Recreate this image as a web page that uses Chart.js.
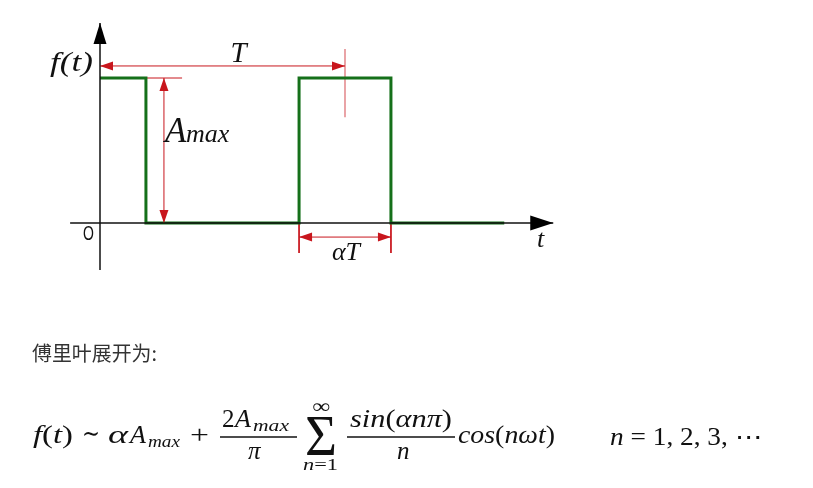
<!DOCTYPE html>
<html>
<head>
<meta charset="utf-8">
<script src="https://cdn.jsdelivr.net/npm/chart.js@4.4.1/dist/chart.umd.min.js"></script>
<style>
  body { margin: 0; background: #fff; width: 813px; height: 488px; overflow: hidden; position: relative; }
  #wave { position: absolute; left: 0; top: 0; }
  #formula { position: absolute; left: 0; top: 0; pointer-events: none; }
  #formula text { font-family: "Liberation Serif", "DejaVu Serif", serif; fill: #111; }
  #formula .it { font-style: italic; }
</style>
</head>
<body>
<canvas id="wave" width="813" height="300"></canvas>

<svg id="formula" width="813" height="488">
  <text x="32" y="361" textLength="125" lengthAdjust="spacingAndGlyphs" style="font-family:'Noto Sans CJK SC',sans-serif;font-size:20px;fill:#333">傅里叶展开为:</text>

  <text x="33" y="443" font-size="25" textLength="40" lengthAdjust="spacingAndGlyphs"><tspan class="it">f</tspan>(<tspan class="it">t</tspan>)</text>
  <text x="82" y="442" font-size="26" textLength="18" lengthAdjust="spacingAndGlyphs">∼</text>
  <text x="108" y="443" font-size="25" class="it" textLength="20" lengthAdjust="spacingAndGlyphs">α</text>
  <text x="130" y="443" font-size="26" class="it">A</text>
  <text x="148" y="447" font-size="17" class="it" textLength="32" lengthAdjust="spacingAndGlyphs">max</text>
  <text x="190" y="443" font-size="25" textLength="19" lengthAdjust="spacingAndGlyphs">+</text>

  <text x="222" y="427" font-size="25">2</text>
  <text x="235" y="427" font-size="26" class="it">A</text>
  <text x="253" y="431" font-size="17" class="it" textLength="36" lengthAdjust="spacingAndGlyphs">max</text>
  <line x1="220" y1="437" x2="297" y2="437" stroke="#111" stroke-width="1.3"/>
  <text x="248" y="459" font-size="25" class="it">π</text>

  <text x="312" y="413" font-size="20" textLength="18" lengthAdjust="spacingAndGlyphs">∞</text>
  <text x="305" y="455" font-size="58" textLength="32" lengthAdjust="spacingAndGlyphs">Σ</text>
  <text x="303" y="470" font-size="17" textLength="35" lengthAdjust="spacingAndGlyphs"><tspan class="it">n</tspan>=1</text>

  <text x="350" y="427" font-size="25" textLength="102" lengthAdjust="spacingAndGlyphs"><tspan class="it">sin</tspan>(<tspan class="it">αnπ</tspan>)</text>
  <line x1="347" y1="437" x2="455" y2="437" stroke="#111" stroke-width="1.3"/>
  <text x="397" y="459" font-size="25" class="it">n</text>

  <text x="458" y="443" font-size="25" textLength="97" lengthAdjust="spacingAndGlyphs"><tspan class="it">cos</tspan>(<tspan class="it">nωt</tspan>)</text>

  <text x="610" y="445" font-size="25" textLength="152" lengthAdjust="spacingAndGlyphs"><tspan class="it">n</tspan> = 1, 2, 3, ⋯</text>
</svg>

<script>
// square wave f(t), time in units of the period T
const period = 1;
const alpha = 0.375;      // duty ratio
const aMax = 1;           // amplitude
const waveT = [0, 0.1875, 0.1875, 0.8125, 0.8125, 1.1875, 1.1875, 1.65];
const waveF = [1, 1, 0, 0, 1, 1, 0, 0];

// axis extents
const xAxisRange = [-0.122, 1.85];
const yAxisRange = [-0.324, 1.38];

const RED = '#c8161d';
const GREEN = '#15701a';

const pts = (xs, ys) => xs.map((x, i) => ({ x: x, y: ys[i] }));

const yT = 1.083;          // height of the T dimension
const yAlphaT = -0.097;    // height of the alpha*T dimension
const xAmax = 0.261;       // where the Amax dimension stands

const lineSet = (data, color, width) => ({
  data: data, showLine: true, borderColor: color, borderWidth: width,
  pointRadius: 0, fill: false, tension: 0
});

const datasets = [
  lineSet(pts(xAxisRange, [0, 0]), '#111', 1.5),
  lineSet(pts([0, 0], yAxisRange), '#111', 1.5),
  lineSet(pts(waveT, waveF), GREEN, 3),
  // T
  lineSet(pts([0, period], [yT, yT]), RED, 1),
  lineSet(pts([period, period], [1.2, 0.73]), 'rgba(200,22,29,0.65)', 1.2),
  // Amax
  lineSet(pts([alpha / 2, 0.335], [aMax, aMax]), RED, 1),
  lineSet(pts([xAmax, xAmax], [0, aMax]), RED, 1),
  // alpha T
  lineSet(pts([period - alpha / 2, period - alpha / 2], [0, -0.207]), RED, 1),
  lineSet(pts([period + alpha / 2, period + alpha / 2], [0, -0.207]), RED, 1),
  lineSet(pts([period - alpha / 2, period + alpha / 2], [yAlphaT, yAlphaT]), RED, 1)
];

// arrow heads: [x, y, direction, colour, length, half width]
const heads = [
  [xAxisRange[1], 0, 'right', '#000', 23, 7.5],
  [0, yAxisRange[1], 'up', '#000', 21, 6.5],
  [0, yT, 'left', RED, 13, 4.5],
  [period, yT, 'right', RED, 13, 4.5],
  [xAmax, aMax, 'up', RED, 13, 4.5],
  [xAmax, 0, 'down', RED, 13, 4.5],
  [period - alpha / 2, yAlphaT, 'left', RED, 13, 4.5],
  [period + alpha / 2, yAlphaT, 'right', RED, 13, 4.5]
];

const decorations = {
  id: 'decorations',
  afterDatasetsDraw(chart) {
    const { ctx, scales: { x, y } } = chart;
    ctx.save();
    heads.forEach(([hx, hy, dir, col, len, hw]) => {
      const px = x.getPixelForValue(hx), py = y.getPixelForValue(hy);
      ctx.fillStyle = col;
      ctx.beginPath();
      ctx.moveTo(px, py);
      if (dir === 'right') { ctx.lineTo(px - len, py - hw); ctx.lineTo(px - len, py + hw); }
      if (dir === 'left') { ctx.lineTo(px + len, py - hw); ctx.lineTo(px + len, py + hw); }
      if (dir === 'up') { ctx.lineTo(px - hw, py + len); ctx.lineTo(px + hw, py + len); }
      if (dir === 'down') { ctx.lineTo(px - hw, py - len); ctx.lineTo(px + hw, py - len); }
      ctx.closePath();
      ctx.fill();
    });

    ctx.fillStyle = '#111';
    ctx.textBaseline = 'alphabetic';
    const serif = '"Liberation Serif", "DejaVu Serif", serif';

    // f(t), a bit wider than the plain italic
    ctx.save();
    ctx.translate(50, 71);
    ctx.scale(1.3, 1);
    ctx.font = 'italic 27px ' + serif;
    ctx.textAlign = 'left';
    ctx.fillText('f(t)', 0, 0);
    ctx.restore();

    ctx.font = 'italic 29px ' + serif;
    ctx.textAlign = 'center';
    ctx.fillText('T', x.getPixelForValue(period / 2) + 16, y.getPixelForValue(yT) - 4);

    ctx.textAlign = 'left';
    ctx.font = 'italic 35px ' + serif;
    const ax = x.getPixelForValue(xAmax) + 1, ay = 142;
    ctx.fillText('A', ax, ay);
    ctx.font = 'italic 26px ' + serif;
    ctx.fillText('max', ax + 21, ay);

    ctx.font = 'italic 26px ' + serif;
    ctx.textAlign = 'center';
    ctx.fillText('αT', x.getPixelForValue(period) + 1, 260);

    ctx.save();
    ctx.translate(83, 240);
    ctx.scale(0.7, 1);
    ctx.font = '20px "Liberation Sans", sans-serif';
    ctx.textAlign = 'left';
    ctx.fillText('O', 0, 0);
    ctx.restore();

    ctx.font = 'italic 26px ' + serif;
    ctx.textAlign = 'left';
    ctx.fillText('t', 537, 247);
    ctx.restore();
  }
};

new Chart(document.getElementById('wave'), {
  type: 'scatter',
  data: { datasets: datasets },
  options: {
    responsive: false,
    animation: false,
    layout: { padding: 0 },
    plugins: { legend: { display: false }, tooltip: { enabled: false } },
    scales: {
      x: { type: 'linear', display: false, min: -100 / 245, max: 713 / 245 },
      y: { type: 'linear', display: false, min: -77 / 145, max: 223 / 145 }
    }
  },
  plugins: [decorations]
});
</script>
</body>
</html>
